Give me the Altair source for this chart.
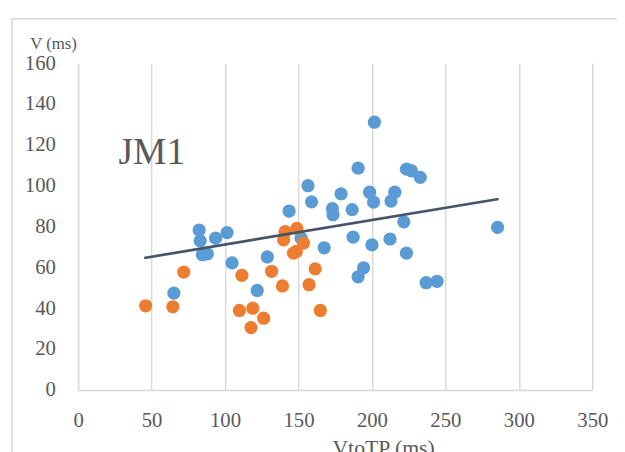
import altair as alt
import pandas as pd

# Singleton consonants (blue)
blue_x = [65.2, 82.4, 83.1, 93.6, 101.4, 84.6, 88.0, 104.8, 128.8, 121.9,
          143.6, 156.5, 158.9, 173.1, 173.5, 179.0, 151.8, 167.5, 201.7, 190.6,
          223.5, 226.9, 232.9, 198.4, 215.6, 201.1, 213.0, 186.5, 221.7, 187.2,
          200.0, 212.3, 223.5, 194.3, 190.6, 236.9, 244.3, 285.5]
blue_y = [47.4, 78.3, 73.0, 74.3, 77.0, 66.2, 66.6, 62.2, 65.1, 48.7,
          87.6, 100.0, 92.1, 88.8, 85.8, 96.0, 74.3, 69.6, 131.1, 108.6,
          108.1, 107.3, 104.1, 96.8, 96.8, 92.0, 92.5, 88.3, 82.3, 74.8,
          71.0, 73.9, 67.0, 59.8, 55.4, 52.5, 53.2, 79.6]
# Geminate consonants (orange)
orange_x = [46.0, 64.5, 71.9, 111.5, 131.7, 139.1, 109.8, 118.9, 126.3, 117.7,
            140.9, 148.9, 139.9, 153.4, 148.5, 146.6, 161.4, 157.2, 164.9]
orange_y = [41.2, 40.7, 57.7, 56.1, 58.1, 50.9, 38.9, 40.0, 35.1, 30.5,
            77.5, 79.1, 73.5, 71.9, 67.8, 67.0, 59.3, 51.5, 38.9]
# Linear trendline end points
trend_x = [45.0, 286.2]
trend_y = [64.6, 93.5]
# Panel label
label_text = ["JM1"]
label_x = [27.5]
label_y = [110.7]

x_ticks = [0, 50, 100, 150, 200, 250, 300, 350]
y_ticks = [0, 20, 40, 60, 80, 100, 120, 140, 160]

blue_df = pd.DataFrame({"x": blue_x, "y": blue_y})
orange_df = pd.DataFrame({"x": orange_x, "y": orange_y})
trend_df = pd.DataFrame({"x": trend_x, "y": trend_y})
label_df = pd.DataFrame({"x": label_x, "y": label_y, "t": label_text})

FONT = "Liberation Serif"
GRAY = "#595959"
LINE = "#d9d9d9"

x_axis = alt.Axis(values=x_ticks, grid=True, gridColor=LINE, gridWidth=1.5,
                  domainColor=LINE, domainWidth=1.5, ticks=False,
                  labelFont=FONT, labelFontSize=21, labelColor=GRAY,
                  labelPadding=20, labelFlush=False,
                  title="VtoTP  (ms)", titleFont=FONT, titleFontSize=22,
                  titleFontWeight="normal", titleColor=GRAY,
                  titleAngle=0, titleAlign="center", titleBaseline="alphabetic",
                  titleX=309, titleY=65)
y_axis = alt.Axis(values=y_ticks, grid=False,
                  domainColor=LINE, domainWidth=1.5, ticks=False,
                  labelFont=FONT, labelFontSize=21, labelColor=GRAY,
                  labelPadding=23, labelFlush=False,
                  title="V  (ms)", titleFont=FONT, titleFontSize=17,
                  titleFontWeight="normal", titleColor=GRAY,
                  titleAngle=0, titleAlign="left", titleBaseline="alphabetic",
                  titleX=-49, titleY=-15)

xs = alt.Scale(domain=[0, 350], nice=False, zero=False)
ys = alt.Scale(domain=[0, 160], nice=False, zero=False)

def enc(ch):
    return ch.encode(
        x=alt.X("x:Q", scale=xs, axis=x_axis),
        y=alt.Y("y:Q", scale=ys, axis=y_axis),
    )

frame = alt.Chart(pd.DataFrame({"a": [0]})).mark_rect(
    fillOpacity=0, stroke=LINE, strokeWidth=1.5
).encode(x=alt.value(-67), x2=alt.value(600), y=alt.value(-45), y2=alt.value(500))

blue = enc(alt.Chart(blue_df).mark_circle(size=180, color="#5B9BD5", opacity=1))
orange = enc(alt.Chart(orange_df).mark_circle(size=180, color="#ED7D31", opacity=1))
trend = enc(alt.Chart(trend_df).mark_line(color="#44546A", strokeWidth=2.75))
label = alt.Chart(label_df).mark_text(
    align="left", baseline="alphabetic", font=FONT, fontSize=38, color=GRAY
).encode(x=alt.X("x:Q", scale=xs), y=alt.Y("y:Q", scale=ys), text="t:N")

chart = alt.layer(frame, blue, orange, trend, label).properties(
    width=521, height=331,
    autosize=alt.AutoSizeParams(type="none"),
    padding={"left": 71, "top": 53, "right": 25, "bottom": 60},
    background="white",
).configure_view(stroke=None)

chart.save("out.html", embed_options={"renderer": "svg", "actions": False})
